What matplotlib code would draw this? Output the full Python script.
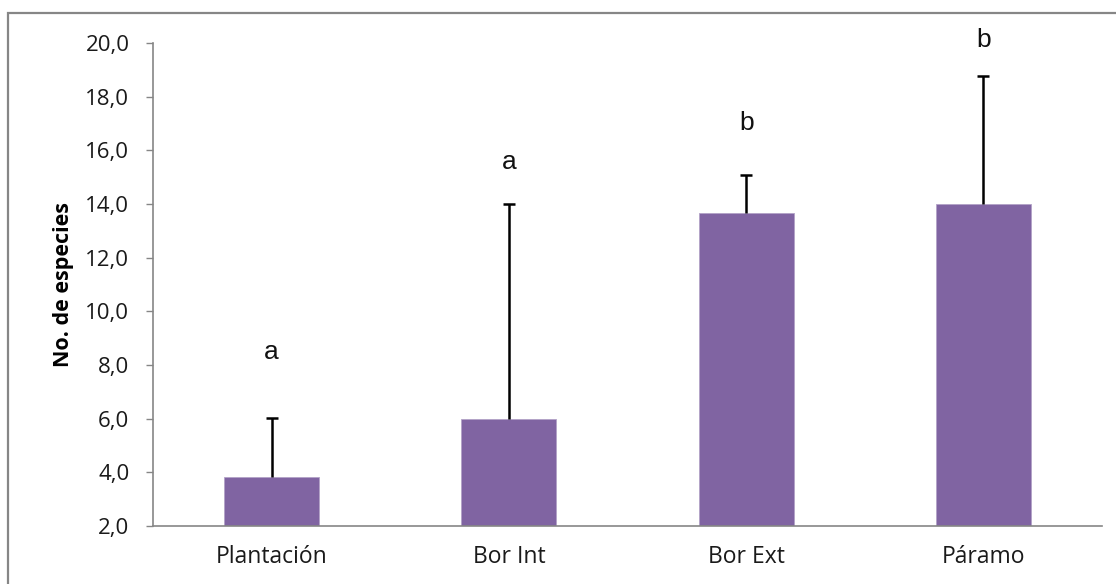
import numpy as np
import matplotlib
matplotlib.use("Agg")
import matplotlib.pyplot as plt
from matplotlib.ticker import FuncFormatter, MultipleLocator
from matplotlib.patches import Rectangle

# Mean number of species per habitat, with the upper error bar
sitios = ["Plantación", "Bor Int", "Bor Ext", "Páramo"]
especies = [3.83, 6.0, 13.67, 14.0]
error_sup = [2.21, 8.0, 1.40, 4.77]
letras = ["a", "a", "b", "b"]
letra_y = [8.5, 15.55, 17.0, 20.1]

fig = plt.figure(figsize=(11.16, 5.84), dpi=100)
ax = fig.add_axes([0.1371, 0.0993, 0.8504, 0.8271])

# outer chart frame (only top and left edges fall inside the image)
fig.patches.append(Rectangle((8 / 1116, -0.05), 1.2, 1 - 13 / 584 + 0.05,
                             transform=fig.transFigure, fill=False,
                             edgecolor="#868686", linewidth=1.6))

x = np.arange(len(sitios))
ax.bar(x, especies, width=0.4, bottom=0, color="#8064A2",
       edgecolor="#B3A2C7", linewidth=0.6, zorder=2)
eb = ax.errorbar(x, especies, yerr=[np.zeros(len(x)), error_sup], fmt="none",
                 ecolor="black", elinewidth=1.8, capsize=4.2, capthick=1.8, zorder=3)
# only the upper cap is shown
eb[1][0].set_visible(False)

for xi, letra, yl in zip(x, letras, letra_y):
    ax.text(xi, yl, letra, ha="center", va="center", fontsize=19,
            family="Liberation Sans", color="#111111", clip_on=False)

ax.set_xlim(-0.5, 3.5)
ax.set_ylim(2, 20)
ax.yaxis.set_major_locator(MultipleLocator(2))
ax.yaxis.set_major_formatter(FuncFormatter(lambda v, p: f"{v:.1f}".replace(".", ",")))
ax.set_xticks(x)
ax.set_xticklabels(sitios, family="Open Sans", fontsize=16.5, color="#1a1a1a")
for lbl in ax.get_yticklabels():
    lbl.set_family("Open Sans")
    lbl.set_fontsize(16)
    lbl.set_color("#1a1a1a")

ax.tick_params(axis="y", length=5, width=1, color="#868686", pad=12)
ax.tick_params(axis="x", length=0, pad=14)

for side in ["top", "right"]:
    ax.spines[side].set_visible(False)
for side in ["left", "bottom"]:
    ax.spines[side].set_color("#868686")
    ax.spines[side].set_linewidth(1.2)

ax.set_ylabel("No. de especies", family="Open Sans", fontweight="bold",
              fontsize=15.5, labelpad=8)

fig.savefig("out.png", dpi=100)
